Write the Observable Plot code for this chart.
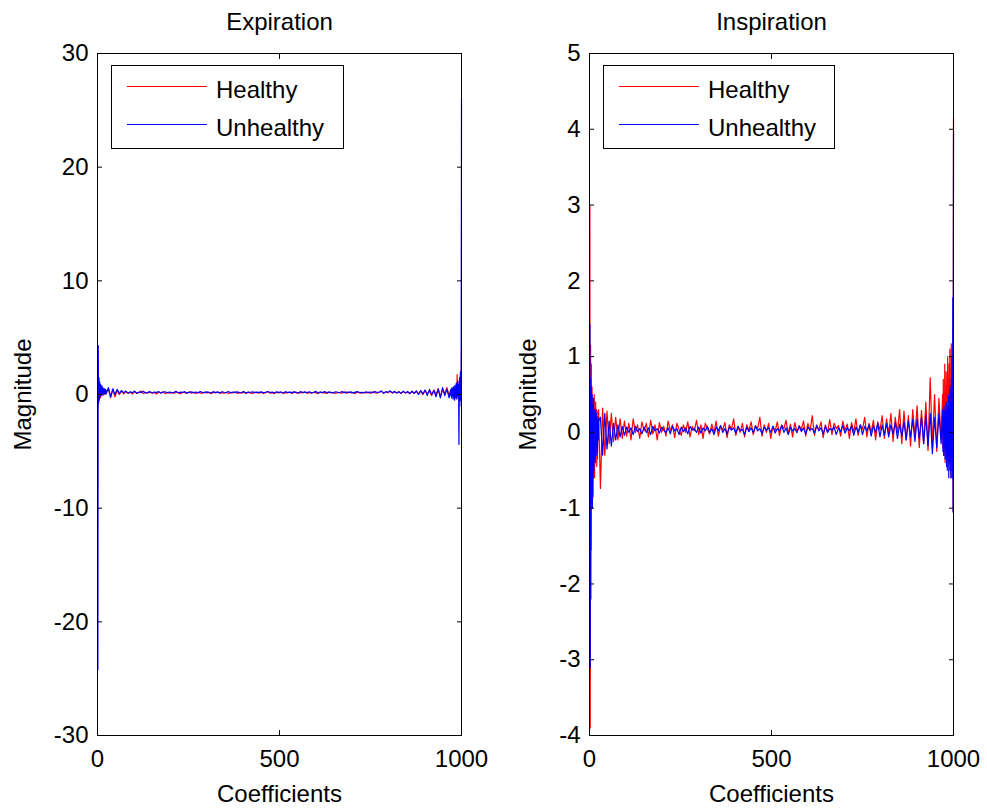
<!DOCTYPE html>
<html><head><meta charset="utf-8">
<script src="https://cdn.jsdelivr.net/npm/d3@7"></script>
<script src="https://cdn.jsdelivr.net/npm/@observablehq/plot@0.6"></script>
<style>
body{margin:0;background:#fff;font-family:"Liberation Sans",Arial,sans-serif;}
#fig{position:relative;width:987px;height:808px;overflow:hidden;background:#fff;}
.panel{position:absolute;top:0;}
.legend{position:absolute;top:65px;}
</style></head>
<body><div id="fig"></div>
<script>
// ---- data ----
const seriesNames = ["Healthy", "Unhealthy"];
const seriesColors = ["#ff0000", "#0000ff"];
const xTicks = [0, 500, 1000];
const expYTicks = [-30, -20, -10, 0, 10, 20, 30];
const insYTicks = [-4, -3, -2, -1, 0, 1, 2, 3, 4, 5];
// coefficient indices: 1..25 at full resolution, 30..966 every 6th, 970..1000 at full resolution
const midStart = 30, midStep = 6;

// Expiration
const expRedL = [1.7,-0.6,1.0,-0.45,0.8,-0.2,0.6,-0.3,0.5,0.0,0.45,-0.1,0.4,0.05,0.35,-0.05,0.3,0.1,0.4,0.0,0.3,0.1,0.25,0.05,0.3];
const expRedMid = [
0.5,-0.3,0.45,-0.2,0.35,0.0,0.3,0.05,0.25,0.1,
0.2,0.05,0.25,0.1,0.18,0.3,0.08,0.2,0.12,0.22,
0.1,0.18,0.05,0.2,0.15,0.25,0.08,0.17,0.12,0.2,
0.1,0.22,0.14,0.06,0.2,0.16,0.1,0.24,0.12,0.18,
0.08,0.2,0.15,0.1,0.22,0.13,0.18,0.07,0.2,0.14,
0.25,0.1,0.16,0.12,0.2,0.09,0.18,0.15,0.22,0.1,
0.17,0.12,0.24,0.08,0.19,0.14,0.1,0.21,0.16,0.12,
0.2,0.1,0.18,0.25,0.12,0.16,0.08,0.2,0.14,0.22,
0.1,0.17,0.13,0.2,0.09,0.23,0.15,0.11,0.19,0.14,
0.24,0.1,0.18,0.12,0.2,0.15,0.08,0.22,0.13,0.17,
0.1,0.21,0.14,0.19,0.09,0.18,0.16,0.12,0.25,0.1,
0.2,0.13,0.17,0.08,0.22,0.15,0.11,0.2,0.14,0.18,
0.1,0.23,0.16,0.12,0.2,0.3,0.1,0.22,0.15,0.28,
0.12,0.22,0.15,0.25,0.1,0.24,0.14,0.2,0.08,0.26,
0.1,0.28,0.05,0.3,0.0,0.35,0.1,0.3,-0.1,0.4,
0.0,0.5,-0.2,0.4,0.1,0.6,-0.1];
const expRedR = [0.3,0.1,0.4,0.0,0.35,-0.1,0.5,0.05,0.45,-0.2,0.6,0.1,0.5,-0.3,0.8,0.0,1.0,-0.2,1.75,0.2,0.9,-0.3,0.7,0.4,1.1,0.0,0.8,0.3,0.6,0.35,4.0];

const expBlueL = [-24.2,4.3,-0.8,1.5,-0.5,1.1,-0.2,0.9,0.0,0.7,-0.1,0.8,0.1,0.6,0.0,0.5,0.15,0.55,0.05,0.4,0.1,0.45,0.05,0.35,0.15];
const expBlueMid = [
0.6,-0.2,0.5,0.0,0.45,0.1,0.35,0.15,0.3,0.12,
0.25,0.15,0.3,0.1,0.22,0.18,0.28,0.12,0.2,0.25,
0.15,0.22,0.18,0.26,0.12,0.2,0.24,0.16,0.22,0.14,
0.2,0.27,0.15,0.21,0.18,0.25,0.12,0.2,0.23,0.17,
0.22,0.14,0.26,0.19,0.16,0.23,0.2,0.13,0.25,0.18,
0.21,0.15,0.24,0.2,0.17,0.26,0.14,0.22,0.19,0.23,
0.16,0.2,0.25,0.13,0.22,0.18,0.24,0.15,0.21,0.19,
0.23,0.14,0.2,0.26,0.17,0.21,0.15,0.24,0.19,0.22,
0.13,0.25,0.18,0.21,0.16,0.23,0.2,0.14,0.26,0.18,
0.22,0.17,0.24,0.15,0.2,0.27,0.13,0.21,0.18,0.25,
0.16,0.22,0.19,0.14,0.24,0.2,0.17,0.26,0.15,0.22,
0.19,0.23,0.14,0.21,0.25,0.17,0.2,0.13,0.24,0.18,
0.22,0.15,0.27,0.18,0.21,0.3,0.12,0.25,0.2,0.32,
0.15,0.28,0.12,0.25,0.1,0.3,0.14,0.26,0.08,0.3,
0.1,0.32,0.0,0.35,0.05,0.4,-0.1,0.45,0.0,0.35,
-0.2,0.5,-0.3,0.6,-0.1,0.45,-0.3];
const expBlueR = [0.4,-0.1,0.5,-0.3,0.6,0.0,0.4,-0.4,0.7,-0.2,0.5,-0.5,0.8,0.0,0.6,-0.3,1.0,-0.4,0.9,0.1,1.2,-0.2,0.8,-4.4,0.5,1.5,-0.5,2.0,0.3,-1.0,26.0];

// Inspiration
const insRedL = [3.0,-3.9,1.15,-2.2,0.9,-0.93,0.6,-0.5,0.45,-0.85,0.3,-0.4,0.5,-0.6,0.25,-0.3,0.4,-0.2,0.3,-0.45,0.2,-0.35,0.28,-0.1,0.3];
const insRedMid = [
-0.74,0.32,-0.3,0.28,-0.15,0.25,-0.12,0.2,-0.1,0.18,
-0.08,0.15,-0.05,0.12,-0.1,0.18,0.0,0.1,-0.08,0.14,
0.02,0.12,-0.06,0.16,-0.02,0.1,-0.1,0.13,0.0,0.08,
-0.05,0.15,0.02,0.1,-0.07,0.12,0.04,-0.04,0.1,0.0,
0.14,-0.06,0.08,0.02,0.16,-0.03,0.1,-0.08,0.12,0.05,
-0.02,0.11,0.0,0.15,-0.05,0.09,0.03,0.13,-0.07,0.1,
0.04,0.18,-0.04,0.08,0.0,0.12,-0.06,0.1,0.03,0.14,
-0.03,0.09,0.05,0.2,-0.05,0.1,0.0,0.12,-0.08,0.08,
0.02,0.14,-0.04,0.1,0.05,0.16,-0.02,0.11,-0.06,0.13,
0.0,0.09,0.04,0.15,-0.05,0.12,0.02,0.22,-0.04,0.1,
0.03,0.14,-0.07,0.1,0.0,0.17,-0.03,0.12,0.05,0.09,
-0.05,0.15,0.02,0.11,-0.08,0.13,0.0,0.18,-0.04,0.1,
0.04,0.2,-0.06,0.12,0.01,0.16,-0.1,0.14,0.03,0.22,
-0.08,0.18,-0.02,0.25,-0.12,0.2,0.0,0.3,-0.15,0.28,
-0.1,0.22,-0.18,0.3,-0.05,0.35,-0.2,0.29,-0.15,0.4,
-0.24,0.72,-0.2,0.5,-0.25,0.45,-0.1];
const insRedR = [0.5,-0.2,0.7,-0.3,0.4,-0.1,0.9,-0.4,0.5,0.0,0.8,-0.3,0.6,-0.2,1.0,-0.1,0.7,-0.4,0.9,0.1,1.1,-0.3,0.6,-0.6,1.17,-0.2,0.8,-0.5,0.5,-1.05,4.15];

const insBlueL = [1.43,-3.1,0.7,-1.55,0.6,-0.9,0.5,-1.0,0.35,-0.6,0.45,-0.5,0.3,-0.35,0.2,-0.4,0.3,-0.2,0.25,-0.3,0.15,-0.25,0.2,-0.1,0.15];
const insBlueMid = [
0.2,-0.3,0.25,-0.22,0.15,-0.18,0.12,-0.1,0.1,-0.06,
0.08,-0.04,0.07,0.0,0.06,-0.03,0.08,0.01,0.05,-0.02,
0.07,0.0,0.06,-0.03,0.08,0.02,0.05,-0.01,0.07,0.03,
0.0,0.06,-0.02,0.08,0.02,0.05,-0.03,0.07,0.01,0.06,
-0.02,0.08,0.03,0.05,0.0,0.07,-0.01,0.06,0.02,0.08,
0.0,0.05,-0.03,0.07,0.02,0.09,0.0,0.05,-0.02,0.07,
0.03,0.06,-0.01,0.08,0.02,0.04,-0.03,0.07,0.01,0.06,
0.0,0.08,0.02,0.05,-0.02,0.07,0.03,0.06,0.0,0.08,
-0.01,0.05,0.02,0.09,0.0,0.06,-0.03,0.07,0.02,0.05,
0.0,0.08,0.01,0.06,-0.02,0.07,0.03,0.05,-0.01,0.09,
0.02,0.06,-0.02,0.08,0.0,0.05,0.03,0.07,-0.03,0.06,
0.01,0.09,-0.01,0.06,0.02,0.08,-0.04,0.07,0.0,0.1,
-0.03,0.08,0.02,0.1,-0.05,0.09,0.0,0.12,-0.06,0.1,
-0.04,0.12,-0.06,0.1,-0.02,0.13,-0.08,0.11,-0.05,0.14,
-0.1,0.15,-0.06,0.17,-0.12,0.18,-0.08,0.2,-0.15,0.22,
-0.18,0.25,-0.28,0.2,-0.2,0.25,-0.15];
const insBlueR = [0.3,-0.25,0.2,-0.3,0.35,-0.15,0.25,-0.35,0.3,-0.2,0.4,-0.45,0.2,-0.5,0.35,-0.3,0.5,-0.6,0.3,-0.4,0.6,-0.5,0.4,-0.6,0.7,-0.35,1.0,-0.6,1.78,-1.05,3.95];

// ---- build ----
function build(L, M, R) {
  const out = [];
  L.forEach((v, k) => out.push({i: 1 + k, v}));
  M.forEach((v, k) => out.push({i: midStart + k * midStep, v}));
  R.forEach((v, k) => out.push({i: 1000 - R.length + 1 + k, v}));
  return out;
}

const FONT = '"Liberation Sans", Arial, Helvetica, sans-serif';
const fig = document.getElementById("fig");

function legendSvg(w) {
  const h = 84;
  const svg = d3.create("svg").attr("width", w).attr("height", h)
    .attr("font-family", FONT).attr("font-size", 24);
  svg.append("rect").attr("x", 0.5).attr("y", 0.5).attr("width", w - 1).attr("height", h - 1)
    .attr("fill", "white").attr("stroke", "black").attr("stroke-width", 1);
  seriesNames.forEach((name, k) => {
    const y = 21.5 + k * 38;
    svg.append("line").attr("x1", 16).attr("x2", 96).attr("y1", y).attr("y2", y)
      .attr("stroke", seriesColors[k]).attr("stroke-width", 1.2);
    svg.append("text").attr("x", 105).attr("y", y + 11.5).attr("fill", "black").text(name);
  });
  return svg.node();
}

function panel(o) {
  const data = [build(...o.red), build(...o.blue)];
  const svg = Plot.plot({
    width: o.width, height: 808,
    marginLeft: o.mL, marginRight: o.mR, marginTop: 53, marginBottom: 73,
    x: {domain: [0, 1000], label: null},
    y: {domain: o.yDomain, label: null},
    style: {fontFamily: FONT, fontSize: "24px", background: "white", color: "black", overflow: "visible"},
    marks: [
      Plot.line(data[0], {x: "i", y: "v", stroke: seriesColors[0], strokeWidth: 1.2}),
      Plot.line(data[1], {x: "i", y: "v", stroke: seriesColors[1], strokeWidth: 1.2}),
      Plot.frame({stroke: "black", strokeWidth: 1}),
      Plot.axisX(xTicks, {anchor: "bottom", tickSize: 0, tickPadding: 14, tickFormat: String, label: null, fontSize: 24}),
      Plot.axisX(xTicks, {anchor: "bottom", tickSize: 5, dy: -5, tickFormat: () => "", label: null}),
      Plot.axisX(xTicks, {anchor: "top", tickSize: 5, dy: 5, tickFormat: () => "", label: null}),
      Plot.axisY(o.yTicks, {anchor: "left", tickSize: 0, tickPadding: 9, tickFormat: String, label: null, fontSize: 24}),
      Plot.axisY(o.yTicks, {anchor: "left", tickSize: 5, dx: 5, tickFormat: () => "", label: null}),
      Plot.axisY(o.yTicks, {anchor: "right", tickSize: 5, dx: -5, tickFormat: () => "", label: null}),
      Plot.text([o.title], {text: d => d, frameAnchor: "top", lineAnchor: "middle", dy: -31, fontSize: 24, fill: "black"}),
      Plot.text(["Coefficients"], {text: d => d, frameAnchor: "bottom", lineAnchor: "middle", dy: 59, fontSize: 24, fill: "black"}),
      Plot.text(["Magnitude"], {text: d => d, frameAnchor: "left", textAnchor: "middle", lineAnchor: "middle", dx: o.magDx, rotate: -90, fontSize: 24, fill: "black"})
    ]
  });
  const wrap = document.createElement("div");
  wrap.className = "panel";
  wrap.style.left = o.left + "px";
  wrap.appendChild(svg);
  fig.appendChild(wrap);

  const lg = document.createElement("div");
  lg.className = "legend";
  lg.style.left = o.legendLeft + "px";
  lg.appendChild(legendSvg(o.legendWidth));
  fig.appendChild(lg);
}

panel({title: "Expiration", left: 0, width: 493, mL: 97, mR: 32,
  yDomain: [-30, 30], yTicks: expYTicks, magDx: -74,
  red: [expRedL, expRedMid, expRedR], blue: [expBlueL, expBlueMid, expBlueR],
  legendLeft: 111, legendWidth: 233});
panel({title: "Inspiration", left: 493, width: 494, mL: 96, mR: 34,
  yDomain: [-4, 5], yTicks: insYTicks, magDx: -61,
  red: [insRedL, insRedMid, insRedR], blue: [insBlueL, insBlueMid, insBlueR],
  legendLeft: 603, legendWidth: 232});
</script>
</body></html>
